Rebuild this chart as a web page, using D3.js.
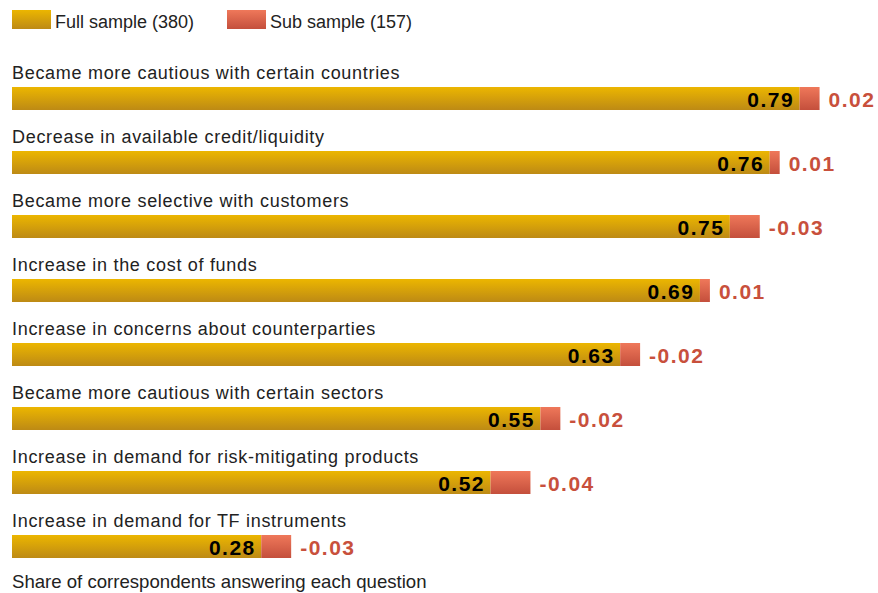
<!DOCTYPE html>
<html><head><meta charset="utf-8">
<script src="https://cdn.jsdelivr.net/npm/d3@7"></script>
<style>
html,body{margin:0;padding:0;background:#fff;}
svg{display:block;}
</style></head>
<body>
<script>
const categories = [
  "Became more cautious with certain countries",
  "Decrease in available credit/liquidity",
  "Became more selective with customers",
  "Increase in the cost of funds",
  "Increase in concerns about counterparties",
  "Became more cautious with certain sectors",
  "Increase in demand for risk-mitigating products",
  "Increase in demand for TF instruments"
];
const fullValues = [0.79, 0.76, 0.75, 0.69, 0.63, 0.55, 0.52, 0.28];
const subDiffs   = [0.02, 0.01, -0.03, 0.01, -0.02, -0.02, -0.04, -0.03];
const legendLabels = ["Full sample (380)", "Sub sample (157)"];
const footerText = "Share of correspondents answering each question";

const W = 878, H = 593;
const svg = d3.select("body").append("svg").attr("width", W).attr("height", H);
const defs = svg.append("defs");
function grad(id, top, bot){
  const g = defs.append("linearGradient").attr("id", id).attr("x1",0).attr("y1",0).attr("x2",0).attr("y2",1);
  g.append("stop").attr("offset","0%").attr("stop-color",top);
  g.append("stop").attr("offset","100%").attr("stop-color",bot);
}
grad("gGold", "#ecb600", "#bd8a15");
grad("gRed", "#ef785a", "#c44f3c");

const textColor = "#222";
const redText = "#c8503c";
const fmt = v => v.toFixed(2);
const FONT = "'Liberation Sans', Arial, Helvetica, sans-serif";

const x = d3.scaleLinear().domain([0, 1]).range([12, 1009]);
const y = d3.scaleBand().domain(categories).range([60, 60 + 64 * categories.length]).paddingInner(0);

const data = categories.map((c, i) => {
  const a = fullValues[i], b = fullValues[i] + subDiffs[i];
  return {c, full: fullValues[i], diff: subDiffs[i], lo: Math.min(a, b), hi: Math.max(a, b)};
});

const barTop = d => y(d.c) + 27;
const barH = 23;

const g = svg.append("g");
const row = g.selectAll("g.row").data(data).join("g").attr("class","row");

row.append("text")
  .attr("x", x(0)).attr("y", d => barTop(d) - 8.5)
  .attr("font-family", FONT)
  .attr("font-size", 18).attr("letter-spacing", "0.7px")
  .attr("fill", textColor)
  .text(d => d.c);

row.append("rect")
  .attr("x", x(0)).attr("y", barTop)
  .attr("width", d => x(d.lo) - x(0)).attr("height", barH)
  .attr("fill", "url(#gGold)");

row.append("rect")
  .attr("x", d => x(d.lo)).attr("y", barTop)
  .attr("width", d => x(d.hi) - x(d.lo)).attr("height", barH)
  .attr("fill", "url(#gRed)");

row.append("text")
  .attr("x", d => x(d.lo) - 5.5).attr("y", d => barTop(d) + 20)
  .attr("text-anchor", "end")
  .attr("font-family", FONT)
  .attr("font-weight", "bold").attr("font-size", 21).attr("letter-spacing", "1.5px")
  .attr("fill", "#000")
  .text(d => fmt(d.full));

row.append("text")
  .attr("x", d => x(d.hi) + 9).attr("y", d => barTop(d) + 20)
  .attr("font-family", FONT)
  .attr("font-weight", "bold").attr("font-size", 21).attr("letter-spacing", "1.5px")
  .attr("fill", redText)
  .text(d => fmt(d.diff));

// legend
const legX = [12, 227];
const legFill = ["url(#gGold)", "url(#gRed)"];
const leg = svg.append("g").selectAll("g").data(legendLabels).join("g");
leg.append("rect").attr("x", (d,i) => legX[i]).attr("y", 10).attr("width", 39).attr("height", 19)
  .attr("fill", (d,i) => legFill[i]);
leg.append("text").attr("x", (d,i) => legX[i] + 43).attr("y", 28.3)
  .attr("font-family", FONT).attr("font-size", 18)
  .attr("fill", textColor).text(d => d);

svg.append("text").attr("x", 12).attr("y", 587.7)
  .attr("font-family", FONT).attr("font-size", 18.6)
  .attr("fill", textColor).text(footerText);
</script>
</body></html>
